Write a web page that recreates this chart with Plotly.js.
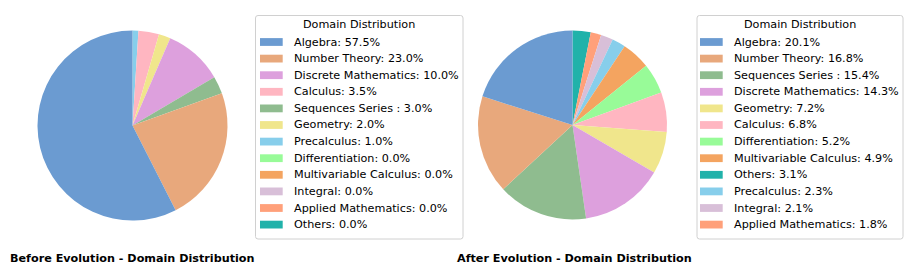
<!DOCTYPE html>
<html>
<head>
<meta charset="utf-8">
<script src="https://cdn.plot.ly/plotly-3.0.1.min.js"></script>
<style>html,body{margin:0;padding:0;background:#fff;}#chart{width:913px;height:272px;}</style>
</head>
<body>
<div id="chart"></div>
<script>
// ---- data ----
const domains = ["Algebra", "Number Theory", "Sequences Series ", "Discrete Mathematics", "Geometry", "Calculus",
                 "Differentiation", "Multivariable Calculus", "Precalculus", "Integral", "Applied Mathematics", "Others"];
const beforeValues = [57.5, 23.0, 3.0, 10.0, 2.0, 3.5, 0.0, 0.0, 1.0, 0.0, 0.0, 0.0];
const afterValues  = [20.1, 16.8, 15.4, 14.3, 7.2, 6.8, 5.2, 4.9, 2.3, 2.1, 1.8, 3.1];
const panelTitles = ["Before Evolution - Domain Distribution", "After Evolution - Domain Distribution"];
const legendTitle = "Domain Distribution";

// ---- styles ----
const domainColors = ["#6b9bd1", "#e8a87c", "#8fbc8f", "#dda0dd", "#f0e68c", "#ffb6c1",
                      "#98fb98", "#f4a460", "#87ceeb", "#d8bfd8", "#ffa07a", "#20b2aa"];
const W = 913, H = 272;
const X = px => px / W;
const Y = py => 1 - py / H;
const FONT = "DejaVu Sans";
const FS = 11.2;

const panels = [
  {values: beforeValues, pie: {l: 37.5, r: 227.5, t: 30.5, b: 220.5},
   legend: {l: 255.5, r: 463, t: 15.5, b: 239}, swatchX: 260, title: panelTitles[0], titleX: 8},
  {values: afterValues, pie: {l: 478, r: 667, t: 30.5, b: 219.5},
   legend: {l: 697, r: 903, t: 15.5, b: 239}, swatchX: 700, title: panelTitles[1], titleX: 455}
];

function roundedRectPath(l, t, r, b, rad) {
  // pixel coords -> paper path
  const px = v => X(v), py = v => Y(v);
  return "M " + px(l + rad) + "," + py(t) +
    " L " + px(r - rad) + "," + py(t) +
    " Q " + px(r) + "," + py(t) + " " + px(r) + "," + py(t + rad) +
    " L " + px(r) + "," + py(b - rad) +
    " Q " + px(r) + "," + py(b) + " " + px(r - rad) + "," + py(b) +
    " L " + px(l + rad) + "," + py(b) +
    " Q " + px(l) + "," + py(b) + " " + px(l) + "," + py(b - rad) +
    " L " + px(l) + "," + py(t + rad) +
    " Q " + px(l) + "," + py(t) + " " + px(l + rad) + "," + py(t) + " Z";
}

const traces = [];
const shapes = [];
const annotations = [];

panels.forEach(p => {
  // matplotlib draws counterclockwise from 12 o'clock; feed reversed order clockwise
  const rev = domains.map((d, i) => i).reverse();
  traces.push({
    type: "pie",
    labels: rev.map(i => domains[i]),
    values: rev.map(i => p.values[i]),
    sort: false,
    direction: "clockwise",
    rotation: 0,
    textinfo: "none",
    hoverinfo: "label+percent",
    showlegend: false,
    marker: {colors: rev.map(i => domainColors[i]), line: {width: 0}},
    domain: {x: [X(p.pie.l), X(p.pie.r)], y: [Y(p.pie.b), Y(p.pie.t)]}
  });

  // legend box
  shapes.push({type: "path", xref: "paper", yref: "paper", layer: "above",
    path: roundedRectPath(p.legend.l, p.legend.t, p.legend.r, p.legend.b, 2.5),
    line: {color: "#d0d0d0", width: 1}, fillcolor: "rgba(255,255,255,0.8)"});
  annotations.push({xref: "paper", yref: "paper", showarrow: false,
    x: X((p.legend.l + p.legend.r) / 2), y: Y(24.7), xanchor: "center", yanchor: "middle",
    text: legendTitle, font: {family: FONT, size: FS, color: "#000"}});

  // legend entries sorted by value (stable)
  const order = domains.map((d, i) => i).sort((a, b) => p.values[b] - p.values[a]);
  order.forEach((i, row) => {
    const cy = 42 + row * 16.6;
    shapes.push({type: "rect", xref: "paper", yref: "paper", layer: "above",
      x0: X(p.swatchX), x1: X(p.swatchX + 22.7), y0: Y(cy + 3.9), y1: Y(cy - 3.9),
      line: {width: 0}, fillcolor: domainColors[i]});
    annotations.push({xref: "paper", yref: "paper", showarrow: false,
      x: X(p.swatchX + 31.8), y: Y(cy), xanchor: "left", yanchor: "middle",
      text: domains[i] + ": " + p.values[i].toFixed(1) + "%",
      font: {family: FONT, size: FS, color: "#000"}});
  });

  annotations.push({xref: "paper", yref: "paper", showarrow: false,
    x: X(p.titleX), y: Y(258), xanchor: "left", yanchor: "middle",
    text: "<b>" + p.title + "</b>", font: {family: FONT, size: FS, color: "#000"}});
});

const layout = {
  width: W, height: H,
  margin: {l: 0, r: 0, t: 0, b: 0, pad: 0},
  paper_bgcolor: "#fff",
  plot_bgcolor: "#fff",
  showlegend: false,
  shapes: shapes,
  annotations: annotations
};

Plotly.newPlot("chart", traces, layout, {displayModeBar: false, staticPlot: true});
</script>
</body>
</html>
